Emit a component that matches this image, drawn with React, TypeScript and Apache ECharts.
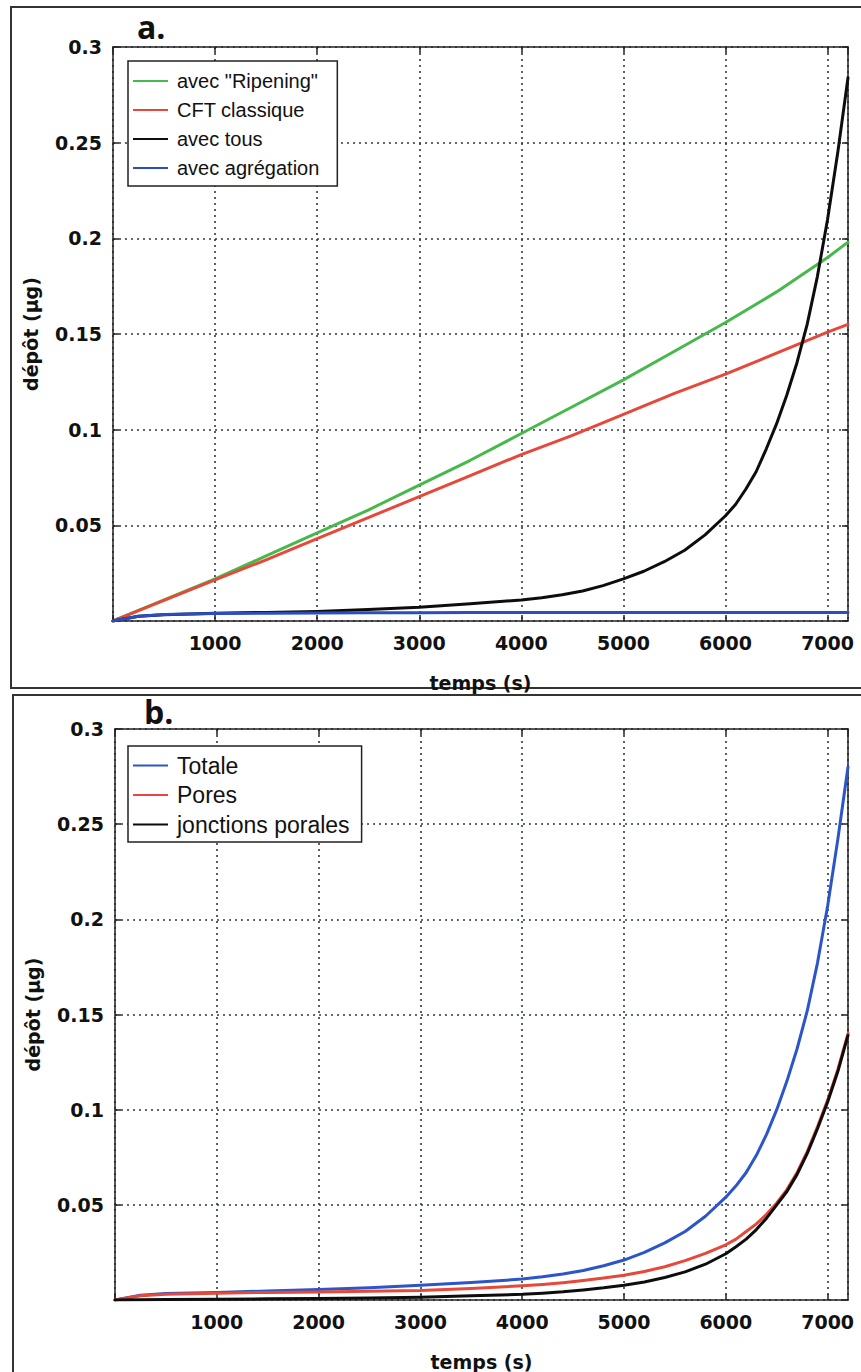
import React, { useEffect, useRef } from "react";
import * as echarts from "echarts";

// ---- time samples (s) ----
const tLin = [0, 250, 500, 1000, 1500, 2000, 2500, 3000, 3500, 4000, 4500, 5000, 5500, 6000, 6500, 7000, 7200];
const tDense = [0, 250, 500, 1000, 1500, 2000, 2500, 3000, 3500, 4000, 4200, 4400, 4600, 4800, 5000, 5200, 5400, 5600, 5800, 6000, 6100, 6200, 6300, 6400, 6500, 6600, 6700, 6800, 6900, 7000, 7100, 7200];

// ---- Panel a data (µg) ----
const ripening = [0, 0.0055, 0.011, 0.022, 0.034, 0.046, 0.058, 0.071, 0.084, 0.098, 0.112, 0.126, 0.141, 0.156, 0.172, 0.19, 0.198];
const cftClassique = [0, 0.0054, 0.0108, 0.0215, 0.032, 0.043, 0.054, 0.065, 0.076, 0.087, 0.097, 0.108, 0.119, 0.129, 0.14, 0.151, 0.155];
const agregation = [0, 0.0025, 0.0034, 0.0039, 0.0041, 0.0042, 0.0043, 0.0043, 0.0044, 0.0044, 0.0044, 0.0045, 0.0045, 0.0045, 0.0045, 0.0045, 0.0045];
const avecTous = [0, 0.0025, 0.0033, 0.004, 0.0045, 0.005, 0.006, 0.0072, 0.009, 0.011, 0.0122, 0.0137, 0.0157, 0.0185, 0.022, 0.026, 0.031, 0.037, 0.045, 0.055, 0.061, 0.069, 0.078, 0.09, 0.103, 0.118, 0.135, 0.155, 0.18, 0.21, 0.245, 0.284];

// ---- Panel b data (µg) ----
const totale = [0, 0.0025, 0.0034, 0.004, 0.0047, 0.0055, 0.0065, 0.0077, 0.0092, 0.011, 0.0122, 0.0137, 0.0155, 0.018, 0.021, 0.025, 0.03, 0.036, 0.044, 0.054, 0.06, 0.067, 0.076, 0.087, 0.1, 0.115, 0.132, 0.152, 0.177, 0.207, 0.242, 0.28];
const pores = [0, 0.0022, 0.003, 0.0036, 0.004, 0.0042, 0.0046, 0.005, 0.006, 0.0075, 0.0082, 0.0091, 0.0102, 0.0115, 0.013, 0.015, 0.0175, 0.0207, 0.0245, 0.029, 0.032, 0.036, 0.04, 0.045, 0.051, 0.058, 0.067, 0.078, 0.091, 0.105, 0.121, 0.14];
const jonctions = [0, 0.0001, 0.0002, 0.0004, 0.0006, 0.0008, 0.0011, 0.0015, 0.0022, 0.003, 0.0036, 0.0043, 0.0053, 0.0064, 0.0078, 0.0095, 0.0118, 0.0148, 0.0188, 0.0243, 0.028, 0.032, 0.037, 0.043, 0.05, 0.057, 0.066, 0.077, 0.09, 0.104, 0.12, 0.139];

const legendA = ['avec "Ripening"', "CFT classique", "avec tous", "avec agrégation"];
const legendB = ["Totale", "Pores", "jonctions porales"];
const xTitle = "temps (s)";
const yTitle = "dépôt (µg)";

const zip = (t: number[], v: number[]) => t.map((x, i) => [x, v[i]]);

const TICK_FONT = "DejaVu Sans";
const LEG_FONT = "Liberation Sans";

function mainX(grid: number) {
  return {
    type: "value",
    gridIndex: grid,
    min: 0,
    max: 7200,
    interval: 1000,
    axisLine: { show: true, onZero: false, lineStyle: { color: "#222", width: 1.5 } },
    axisTick: { show: true, inside: true, length: 6, lineStyle: { color: "#222", width: 1.5 } },
    axisLabel: {
      formatter: (v: number) => (v > 0 && v % 1000 === 0 ? String(v) : ""),
      fontFamily: TICK_FONT,
      fontWeight: "bold",
      fontSize: 19,
      color: "#111",
      margin: 12,
      showMaxLabel: false,
    },
    splitLine: { show: true, lineStyle: { type: [2, 4], color: "#2c3a44", width: 1.6 } },
    name: xTitle,
    nameLocation: "middle",
    nameGap: 52,
    nameTextStyle: { fontFamily: TICK_FONT, fontWeight: "bold", fontSize: 19, color: "#111" },
  };
}
function topX(grid: number) {
  return {
    type: "value",
    gridIndex: grid,
    position: "top",
    min: 0,
    max: 7200,
    interval: 1000,
    axisLine: { show: true, onZero: false, lineStyle: { color: "#222", width: 1.5 } },
    axisTick: { show: true, inside: true, length: 6, lineStyle: { color: "#222", width: 1.5 } },
    axisLabel: { show: false },
    splitLine: { show: false },
  };
}
function mainY(grid: number) {
  return {
    type: "value",
    gridIndex: grid,
    min: 0,
    max: 0.3,
    interval: 0.05,
    axisLine: { show: true, onZero: false, lineStyle: { color: "#222", width: 1.5 } },
    axisTick: { show: true, inside: true, length: 6, lineStyle: { color: "#222", width: 1.5 } },
    axisLabel: {
      formatter: (v: number) => (v < 1e-9 ? "" : String(+v.toFixed(2))),
      fontFamily: TICK_FONT,
      fontWeight: "bold",
      fontSize: 19,
      color: "#111",
      margin: 11,
    },
    splitLine: { show: true, lineStyle: { type: [2, 4], color: "#2c3a44", width: 1.6 } },
    name: yTitle,
    nameLocation: "middle",
    nameGap: 73,
    nameTextStyle: { fontFamily: TICK_FONT, fontWeight: "bold", fontSize: 19, color: "#111" },
  };
}
function rightY(grid: number) {
  return {
    type: "value",
    gridIndex: grid,
    position: "right",
    min: 0,
    max: 0.3,
    interval: 0.05,
    axisLine: { show: true, onZero: false, lineStyle: { color: "#222", width: 1.5 } },
    axisTick: { show: true, inside: true, length: 6, lineStyle: { color: "#222", width: 1.5 } },
    axisLabel: { show: false },
    splitLine: { show: false },
  };
}

function line(name: string, data: number[][], color: string, xi: number, yi: number) {
  return {
    type: "line",
    name,
    xAxisIndex: xi,
    yAxisIndex: yi,
    data,
    symbol: "none",
    smooth: false,
    lineStyle: { color, width: 3, join: "round", cap: "round" },
    itemStyle: { color },
  };
}

export default function App() {
  const ref = useRef<HTMLDivElement>(null);
  useEffect(() => {
    if (!ref.current) return;
    const chart = echarts.init(ref.current, undefined, { renderer: "svg" });
    const option = {
      animation: false,
      backgroundColor: "#fff",
      grid: [
        { left: 113, top: 47, width: 735, height: 574 },
        { left: 115, top: 729, width: 733, height: 575 },
      ],
      xAxis: [mainX(0), topX(0), mainX(1), topX(1)],
      yAxis: [mainY(0), rightY(0), mainY(1), rightY(1)],
      legend: [
        {
          data: legendA,
          left: 128,
          top: 61,
          orient: "vertical",
          padding: [10, 18, 8, 5],
          itemGap: 9,
          itemWidth: 35,
          itemHeight: 2,
          icon: "rect",
          borderColor: "#222",
          borderWidth: 1.5,
          backgroundColor: "#fff",
          textStyle: { fontFamily: LEG_FONT, fontSize: 20, lineHeight: 20, color: "#111", padding: [0, 0, 0, 4] },
        },
        {
          data: legendB,
          left: 128,
          top: 746,
          orient: "vertical",
          padding: [8, 12, 6, 5],
          itemGap: 6.5,
          itemWidth: 35,
          itemHeight: 2,
          icon: "rect",
          borderColor: "#222",
          borderWidth: 1.5,
          backgroundColor: "#fff",
          textStyle: { fontFamily: LEG_FONT, fontSize: 23, lineHeight: 23, color: "#111", padding: [0, 0, 0, 4] },
        },
      ],
      graphic: [
        { type: "rect", shape: { x: 11, y: 7, width: 900, height: 681 }, style: { fill: "none", stroke: "#333", lineWidth: 2 }, z: -1 },
        { type: "rect", shape: { x: 13, y: 695, width: 900, height: 720 }, style: { fill: "none", stroke: "#333", lineWidth: 2 }, z: -1 },
        { type: "text", x: 137, y: 26, style: { text: "a.", font: 'bold 32px "Open Sans"', fill: "#111", verticalAlign: "middle" } },
        { type: "text", x: 144, y: 711, style: { text: "b.", font: 'bold 32px "Open Sans"', fill: "#111", verticalAlign: "middle" } },
      ],
      series: [
        line(legendA[0], zip(tLin, ripening), "#47b94b", 0, 0),
        line(legendA[1], zip(tLin, cftClassique), "#e6483a", 0, 0),
        line(legendA[2], zip(tDense, avecTous), "#0d0d0d", 0, 0),
        line(legendA[3], zip(tLin, agregation), "#2b4dc2", 0, 0),
        line(legendB[0], zip(tDense, totale), "#2b55c8", 2, 2),
        line(legendB[1], zip(tDense, pores), "#e6483a", 2, 2),
        line(legendB[2], zip(tDense, jonctions), "#0d0d0d", 2, 2),
      ],
    };
    chart.setOption(option as any);
    return () => chart.dispose();
  }, []);
  return (
    <div
      ref={ref}
      style={{ position: "absolute", left: 0, top: 0, width: 861, height: 1372, background: "#fff" }}
    />
  );
}
